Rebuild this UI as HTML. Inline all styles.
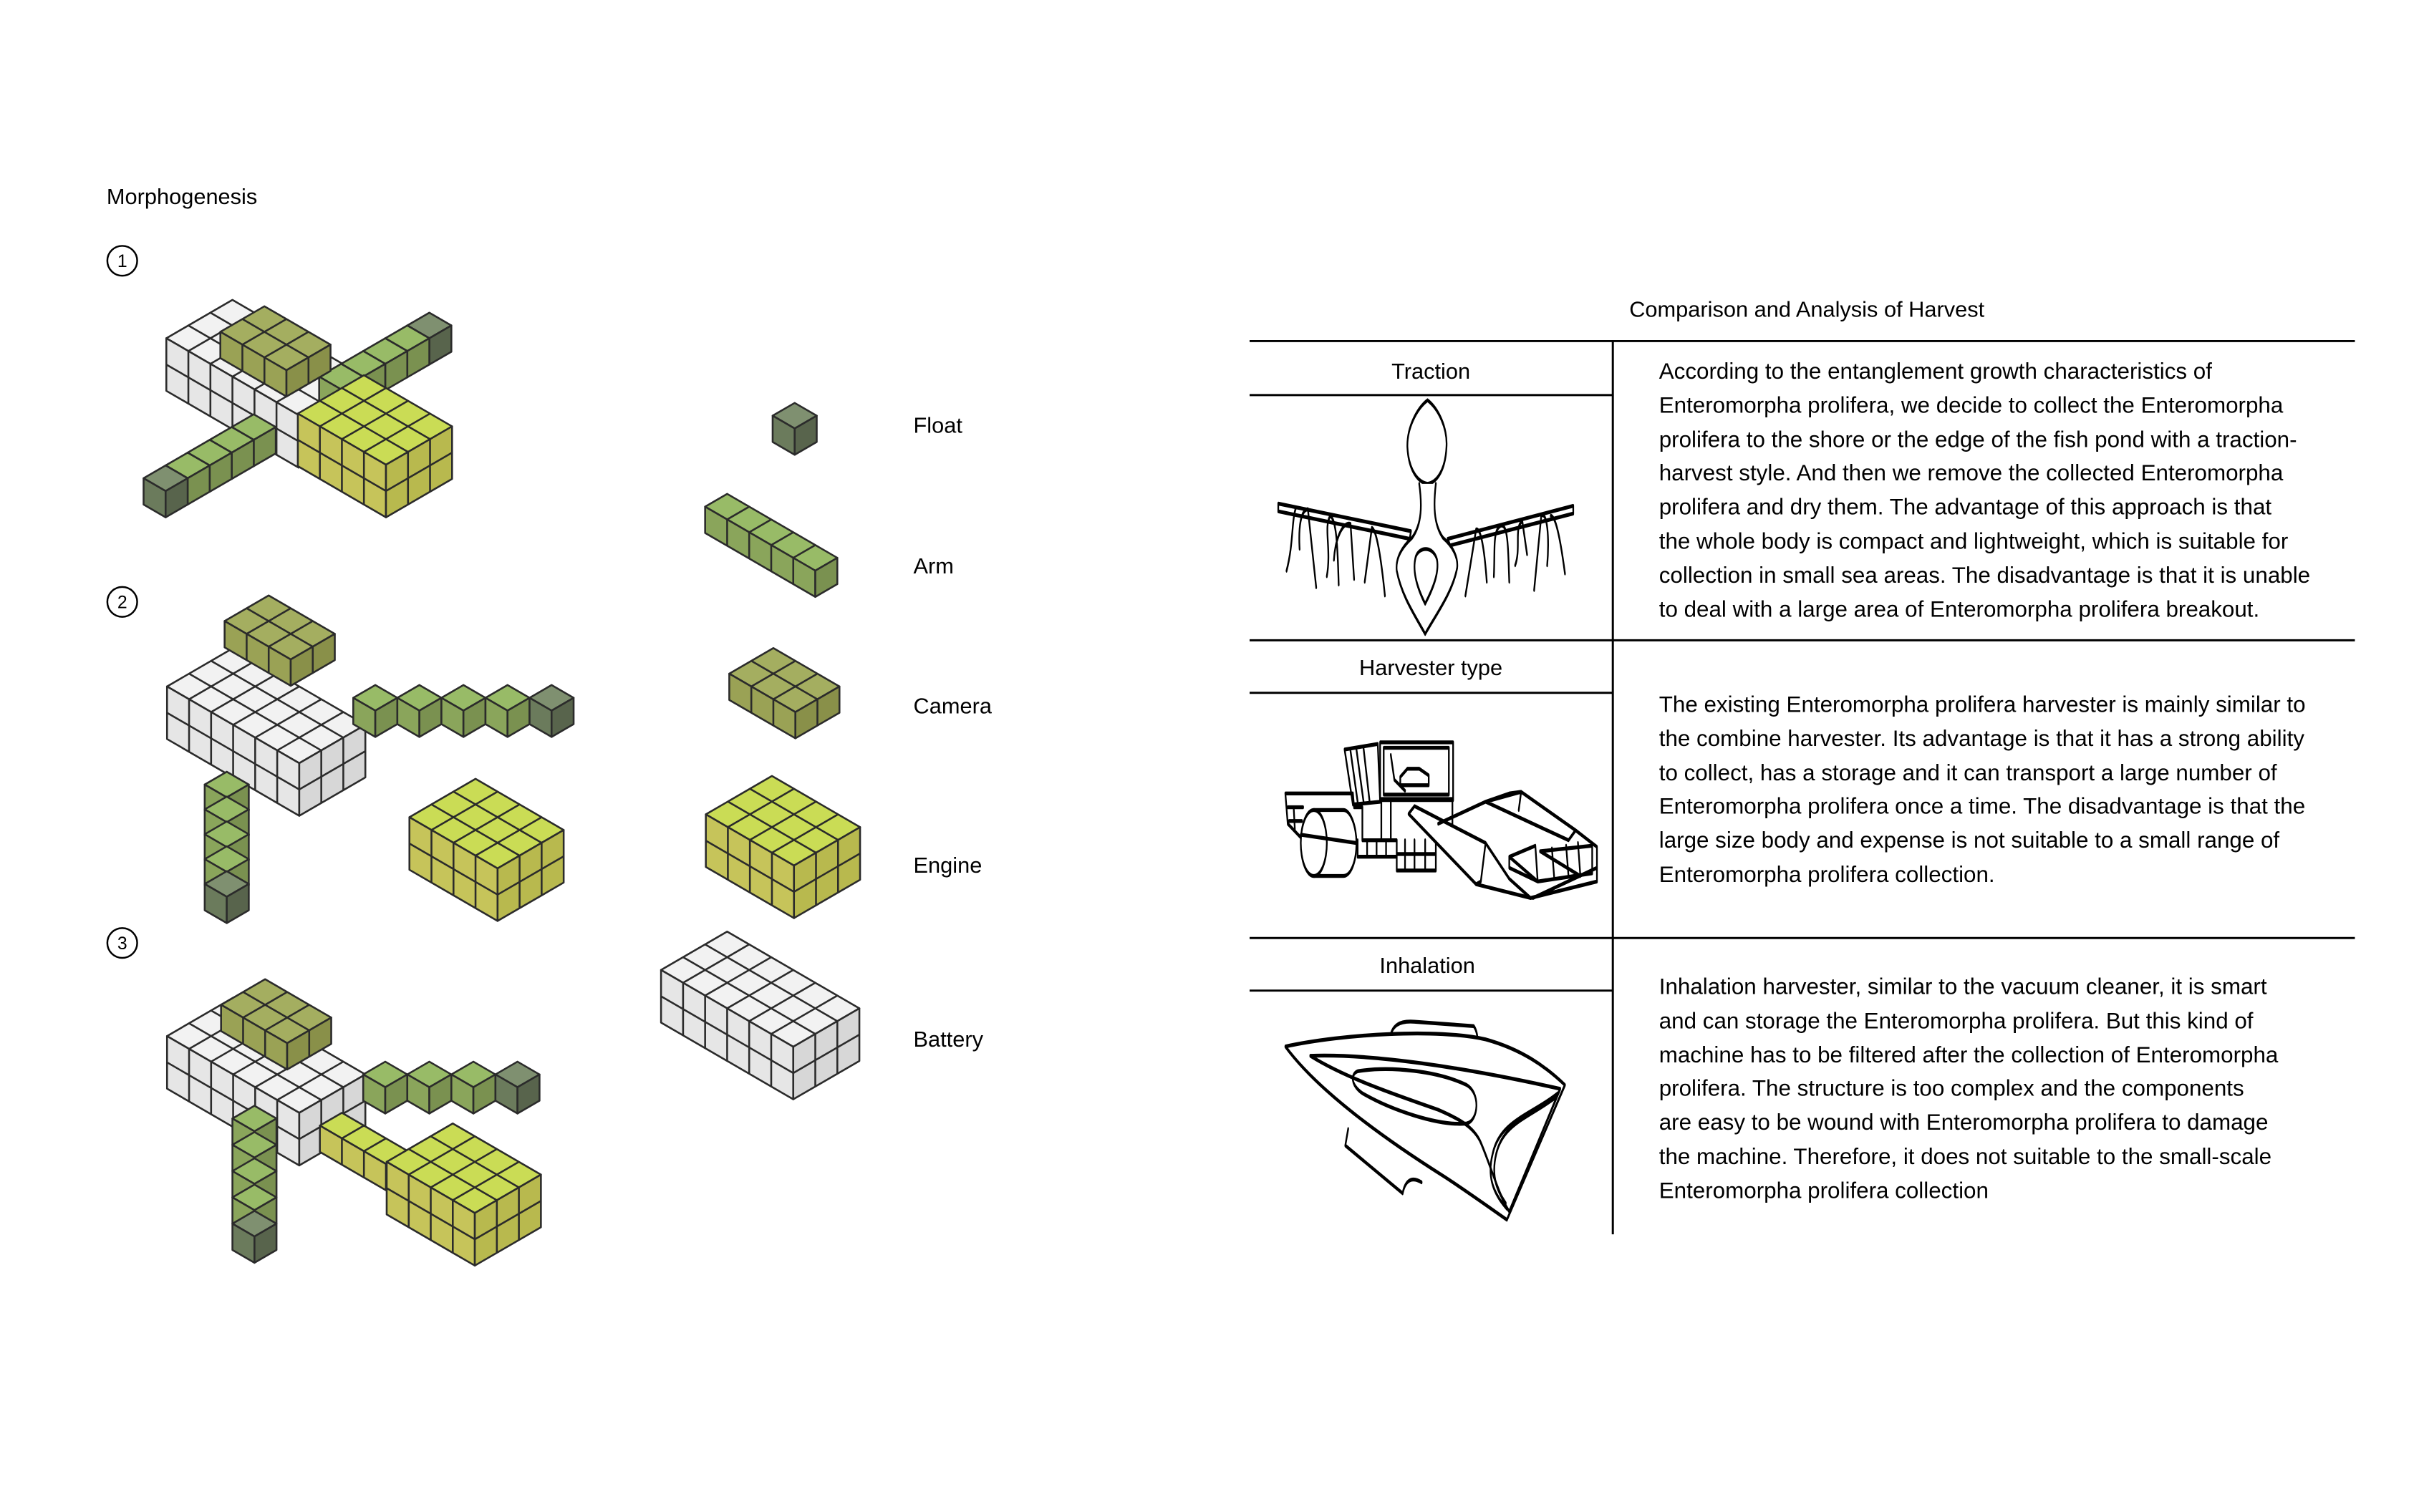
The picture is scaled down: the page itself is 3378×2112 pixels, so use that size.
<!DOCTYPE html>
<html><head><meta charset="utf-8"><style>
html,body{margin:0;padding:0;background:#fff}
body{width:3378px;height:2112px;position:relative;overflow:hidden;font-family:"Liberation Sans",sans-serif;color:#000}
#w{position:absolute;left:0;top:0;width:3378px;height:2112px;transform:scale(0.9926);transform-origin:0 0}
.t{position:absolute;white-space:nowrap;font-size:31px;line-height:30px}
.c{transform:translateX(-50%)}
.p{position:absolute;left:2334px;font-size:31.6px;line-height:47.8px;white-space:nowrap}
svg{position:absolute;left:0;top:0}
</style></head><body><div id="w">
<svg id="s" width="3378" height="2112" viewBox="0 0 3378 2112"></svg>

<div class="t" style="left:150px;top:262px">Morphogenesis</div>
<div class="t" style="left:1285px;top:584px">Float</div>
<div class="t" style="left:1285px;top:782px">Arm</div>
<div class="t" style="left:1285px;top:979px">Camera</div>
<div class="t" style="left:1285px;top:1203px">Engine</div>
<div class="t" style="left:1285px;top:1448px">Battery</div>

<div class="t c" style="left:2542px;top:421px">Comparison and Analysis of Harvest</div>
<div class="t c" style="left:2013px;top:508px">Traction</div>
<div class="t c" style="left:2013px;top:925px">Harvester type</div>
<div class="t c" style="left:2008px;top:1344px">Inhalation</div>

<div class="p" style="top:499px">According to the entanglement growth characteristics of<br>Enteromorpha prolifera, we decide to collect the Enteromorpha<br>prolifera to the shore or the edge of the fish pond with a traction-<br>harvest style. And then we remove the collected Enteromorpha<br>prolifera and dry them. The advantage of this approach is that<br>the whole body is compact and lightweight, which is suitable for<br>collection in small sea areas. The disadvantage is that it is unable<br>to deal with a large area of Enteromorpha prolifera breakout.</div>
<div class="p" style="top:968px">The existing Enteromorpha prolifera harvester is mainly similar to<br>the combine harvester. Its advantage is that it has a strong ability<br>to collect, has a storage and it can transport a large number of<br>Enteromorpha prolifera once a time. The disadvantage is that the<br>large size body and expense is not suitable to a small range of<br>Enteromorpha prolifera collection.</div>
<div class="p" style="top:1365px">Inhalation harvester, similar to the vacuum cleaner, it is smart<br>and can storage the Enteromorpha prolifera. But this kind of<br>machine has to be filtered after the collection of Enteromorpha<br>prolifera. The structure is too complex and the components<br>are easy to be wound with Enteromorpha prolifera to damage<br>the machine. Therefore, it does not suitable to the small-scale<br>Enteromorpha prolifera collection</div>
</div>
<script>
var A=31,B=18,H=37;
var C={
 white:['#f2f2f2','#e6e6e6','#d7d7d7'],
 engine:['#cadc55','#c6c45a','#b8b94e'],
 camera:['#a4ae60','#9aa255','#899049'],
 arm:['#98bb67','#8aa55b','#7a9150'],
 float:['#7f9070','#6b7b5c','#58644c']
};
var out=[];
function P(p){return p[0].toFixed(1)+','+p[1].toFixed(1);}
function add(p,v,k){return [p[0]+v[0]*k,p[1]+v[1]*k];}
var EX=[A,B],EY=[-A,B],DN=[0,H];
function box(x,y,nx,ny,nz,col){
 var c=C[col],T=[x,y];
 var R=add(T,EX,nx),L=add(T,EY,ny),F=add(R,EY,ny);
 var s='stroke="#2b2b2b" stroke-width="2.6" stroke-linejoin="round"';
 out.push('<polygon points="'+P(T)+' '+P(R)+' '+P(F)+' '+P(L)+'" fill="'+c[0]+'" '+s+'/>');
 out.push('<polygon points="'+P(L)+' '+P(F)+' '+P(add(F,DN,nz))+' '+P(add(L,DN,nz))+'" fill="'+c[1]+'" '+s+'/>');
 out.push('<polygon points="'+P(F)+' '+P(R)+' '+P(add(R,DN,nz))+' '+P(add(F,DN,nz))+'" fill="'+c[2]+'" '+s+'/>');
 var l=[];
 for(var i=1;i<nx;i++){var a=add(T,EX,i);l.push([a,add(a,EY,ny)]);var b=add(L,EX,i);l.push([b,add(b,DN,nz)]);}
 for(var j=1;j<ny;j++){var a=add(T,EY,j);l.push([a,add(a,EX,nx)]);var b=add(R,EY,j);l.push([b,add(b,DN,nz)]);}
 for(var k=1;k<nz;k++){l.push([add(L,DN,k),add(F,DN,k)]);l.push([add(F,DN,k),add(R,DN,k)]);}
 l.forEach(function(q){out.push('<line x1="'+q[0][0]+'" y1="'+q[0][1]+'" x2="'+q[1][0]+'" y2="'+q[1][1]+'" stroke="#2b2b2b" stroke-width="2.6"/>');});
}
function cube(x,y,col){box(x,y,1,1,1,col);}

/* Composition 1 */
box(327,422,6,3,2,'white');
for(var j=0;j<5;j++)cube(604-j*A,440+j*B,j==0?'float':'arm');
box(372,431,3,2,1,'camera');
for(var j=0;j<5;j++)cube(357-j*A,583+j*B,j==4?'float':'arm');
box(512,528,4,3,2,'engine');

/* Composition 2 */
box(328,912,6,3,2,'white');
box(378,838,3,2,1,'camera');
for(var i=0;i<5;i++)cube(528+i*62,964,i==4?'float':'arm');
for(var k=0;k<5;k++)cube(319,1086+k*35,k==4?'float':'arm');
box(669,1096,4,3,2,'engine');

/* Composition 3 */
box(328,1404,6,3,2,'white');
box(373,1378,3,2,1,'camera');
for(var i=0;i<4;i++)cube(542+i*62,1494,i==3?'float':'arm');
box(481,1566,4,1,1,'engine');
box(637,1581,4,3,2,'engine');
for(var k=0;k<5;k++)cube(358,1556+k*37,k==4?'float':'arm');

/* Components */
cube(1118,567,'float');
box(1023,695,5,1,1,'arm');
box(1088,912,3,2,1,'camera');
box(1086,1092,4,3,2,'engine');
box(1023,1311,6,3,2,'white');

/* circles */
[[172,367,'1'],[172,847,'2'],[172,1327,'3']].forEach(function(c){
 out.push('<circle cx="'+c[0]+'" cy="'+c[1]+'" r="21" fill="none" stroke="#000" stroke-width="2.5"/>');
 out.push('<text x="'+c[0]+'" y="'+(c[1]+9)+'" font-family="Liberation Sans" font-size="25" text-anchor="middle">'+c[2]+'</text>');
});

/* table lines */
var ln='stroke="#000" stroke-width="3"';
out.push('<line x1="1758" y1="480" x2="3313" y2="480" '+ln+'/>');
out.push('<line x1="1758" y1="901" x2="3313" y2="901" '+ln+'/>');
out.push('<line x1="1758" y1="1320" x2="3313" y2="1320" '+ln+'/>');
out.push('<line x1="1758" y1="556" x2="2269" y2="556" '+ln+'/>');
out.push('<line x1="1758" y1="975" x2="2269" y2="975" '+ln+'/>');
out.push('<line x1="1758" y1="1394" x2="2269" y2="1394" '+ln+'/>');
out.push('<line x1="2269" y1="480" x2="2269" y2="1737" '+ln+'/>');

/* drawings (in zoom coords) */
var g='<g transform="translate(1790,540) scale(0.33333,0.774)" fill="none" stroke="#000" stroke-width="7" stroke-linejoin="round" stroke-linecap="round">';
/* traction */
g+='<path d="M655,30 C700,45 740,80 735,115 C730,160 690,180 655,182 C620,180 575,160 570,115 C568,80 610,45 655,30 Z" fill="#fff"/>';
g+='<path d="M25,218 L585,268 L580,282 L25,232 Z M1270,222 L740,282 L750,294 L1270,236 Z" fill="#fff"/>';
g+='<path d="M620,182 C632,220 632,255 590,280 C540,300 520,320 525,340 C545,385 600,420 645,455 C690,420 760,380 780,335 C785,315 760,295 720,280 C680,255 680,220 690,182" fill="#fff"/>';
g+='<path d="M645,400 C610,370 590,340 605,315 C620,295 680,295 695,320 C705,345 675,375 645,400 Z"/>';
g+='<path d="M60,340 C90,290 80,250 100,225 M115,300 C110,260 120,230 150,228 L185,370 M230,350 C250,300 215,260 245,240 C270,250 275,290 280,365 M260,320 C265,280 300,250 330,255 L345,355 M390,360 L420,262 C440,265 460,320 475,385 M815,385 L860,265 C880,262 895,300 905,360 M935,350 C940,300 930,265 965,258 C995,255 995,300 1000,360 M1025,330 C1050,300 1020,260 1055,250 L1075,310 M1105,375 L1135,240 C1160,232 1170,280 1160,330 M1175,240 C1195,240 1215,280 1235,345"/>';
/* harvester */
g+='<path d="M305,665 L445,655 L455,760 L340,765 Z M330,668 L360,760 M355,665 L385,760 M385,663 L410,758"/>';
g+='<rect x="455" y="652" width="308" height="105"/><rect x="470" y="662" width="275" height="85"/>';
g+='<path d="M500,675 L515,720 L560,740 M540,715 L570,700 L620,700 L660,712 L660,730 L540,730 Z"/>';
g+='<path d="M55,745 L340,745 L345,770 L380,770 L380,830 L525,830 L525,885 L690,885 L690,825 L760,825 L760,755 L460,755 L460,830 M55,745 L65,800 L120,825 M65,770 L130,770 M70,795 L125,795 M90,770 L95,810 M360,830 L360,860 L525,860 M400,830 L400,860 M440,830 L440,860 M480,830 L480,860 M560,830 L560,885 M600,830 L600,885 M645,830 L645,885 M525,855 L690,855 M500,760 L500,825"/>';
g+='<path d="M175,775 L300,775 C330,775 355,805 355,835 C355,870 330,895 300,895 L175,895" fill="#fff"/><ellipse cx="175" cy="835" rx="55" ry="60" fill="#fff"/><path d="M120,820 L355,835"/>';
g+='<path d="M575,782 L600,768 L900,835 L880,905 L860,910 Z" fill="#fff"/>';
g+='<path d="M700,800 L900,760 L1050,742 L1280,812 L1370,842 L1370,905 L1090,935 L860,910 M900,760 L1000,745 L1050,742 L1040,775 M900,760 L1250,830 L1280,812 M900,835 L1000,900 L1090,935 M1000,860 L1110,840 L1120,905 L1000,880 Z M1130,850 L1350,840 L1350,890 L1120,905 M1180,845 L1190,900 M1240,840 L1250,895 M1290,835 L1300,895 M1000,860 L1120,905 M1130,850 L1300,895 M1100,935 L1370,880"/>';
/* iron */
g+='<path d="M495,1195 C500,1165 540,1158 600,1160 L850,1168 C870,1180 870,1205 862,1215" fill="#fff"/>';
g+='<path d="M320,1355 L308,1385 L550,1472 C560,1450 585,1440 630,1452" fill="#fff"/>';
g+='<path d="M55,1205 C300,1182 700,1172 900,1192 C1050,1210 1150,1240 1235,1275 L990,1520 C940,1505 800,1462 720,1440 C500,1380 200,1290 55,1205 Z" fill="#fff"/>';
g+='<path d="M160,1222 C420,1218 800,1242 1215,1282 L1000,1505 C960,1480 920,1420 880,1380 C850,1350 780,1335 700,1320 C500,1290 300,1260 160,1222 Z"/>';
g+='<path d="M360,1250 C500,1240 700,1250 820,1275 C880,1290 870,1340 820,1345 C700,1350 500,1320 380,1290 C330,1275 330,1255 360,1250 Z"/>';
g+='<path d="M1205,1290 C1090,1330 960,1340 930,1400 C900,1450 950,1480 990,1500 M1195,1298 C1080,1335 975,1345 945,1400 C920,1445 955,1470 985,1490"/>';
g+='</g>';
out.push(g);
document.getElementById('s').innerHTML=out.join('');
</script>
</body></html>
